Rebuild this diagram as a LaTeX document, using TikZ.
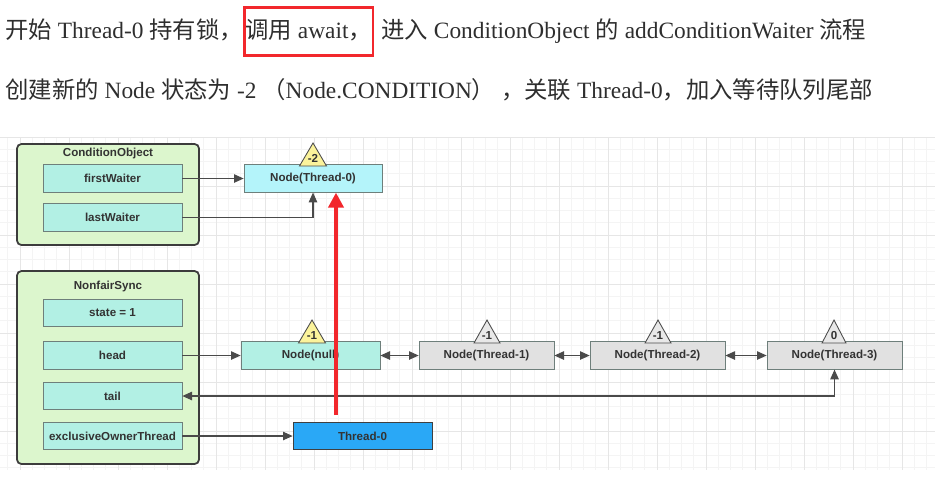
\documentclass[tikz,border=0pt]{standalone}
\usepackage{fontspec}
\setmainfont{Liberation Serif}
\setsansfont{Liberation Sans}
\newfontfamily\cjk{Noto Sans CJK SC}
\usetikzlibrary{positioning,arrows.meta}

\definecolor{headgray}{HTML}{2E2E2E}
\definecolor{redc}{HTML}{F2272C}
\definecolor{holderfill}{HTML}{DCF6CD}
\definecolor{holderline}{HTML}{3C3C3C}
\definecolor{fieldfill}{HTML}{B2F0E4}
\definecolor{fieldline}{HTML}{6E7F7B}
\definecolor{cyanfill}{HTML}{B4F4FA}
\definecolor{grayfill}{HTML}{E1E1E1}
\definecolor{bluefill}{HTML}{2AA8F6}
\definecolor{triyellow}{HTML}{FBF39B}
\definecolor{trigray}{HTML}{E8E8E8}
\definecolor{linkgray}{HTML}{4A4A4A}
\definecolor{gridminor}{HTML}{F4F4F4}
\definecolor{gridmajor}{HTML}{E6E6E6}

\newcommand{\zh}[1]{{\cjk #1}}

\begin{document}
\begin{tikzpicture}[x=0.02cm,y=-0.02cm,
    >={Triangle[length=5.5pt,width=4.8pt]},
    txt/.style={font=\fontsize{13.3pt}{15pt}\selectfont, text=headgray, inner sep=0pt,
                text height=11pt, text depth=3pt},
    redbox/.style={draw=redc, line width=1.4pt, inner xsep=0.5pt, minimum height=0.96cm},
    holder/.style={draw=holderline, fill=holderfill, line width=1pt, rounded corners=2.5pt,
                   minimum width=3.64cm},
    title/.style={font=\sffamily\bfseries\fontsize{6.6pt}{8pt}\selectfont, text=black!80},
    field/.style={title, draw=fieldline, fill=fieldfill, minimum width=2.78cm,
                  minimum height=0.55cm, inner sep=0pt},
    qnode/.style={field, minimum width=2.7cm, fill=grayfill},
    tri/.style={draw=black!70, fill=triyellow, line width=0.5pt},
    link/.style={draw=linkgray, line width=0.6pt},
    redline/.style={draw=redc, line width=2.2pt, -{Triangle[length=0.3cm,width=0.3cm]}}]

    \useasboundingbox (0,0) rectangle (952,495);

    % background grid
    \foreach \i in {0,...,75}
        \draw[gridminor, line width=0.5pt] ({7.75+12.25*\i},137) -- ({7.75+12.25*\i},470);
    \foreach \j in {0,...,27}
        \draw[gridminor, line width=0.5pt] (0,{137+12.25*\j}) -- (935,{137+12.25*\j});
    \foreach \i in {0,...,18}
        \draw[gridmajor, line width=0.5pt] ({20+49*\i},137) -- ({20+49*\i},470);
    \foreach \j in {0,...,6}
        \draw[gridmajor, line width=0.5pt] (0,{137+49*\j}) -- (935,{137+49*\j});

    % headline
    \node[txt, anchor=west] (l1a) at (5,31.5) {\zh{开始} Thread-0 \zh{持有锁，}};
    \node[txt, redbox, right=0pt of l1a] (l1b) {\zh{调用} await\zh{，}};
    \node[txt, right=4pt of l1b] (l1c) {\zh{进入} ConditionObject \zh{的} addConditionWaiter \zh{流程}};
    \node[txt, anchor=west] (l2) at (5,91)
        {\zh{创建新的} Node \zh{状态为} -2 \zh{（}Node.CONDITION\zh{）} \zh{，关联} Thread-0\zh{，加入等待队列尾部}};

    % ConditionObject
    \node[holder, minimum height=2.02cm] (cobj) at (108,194.5) {};
    \node[title] (ctitle) at (108,153) {ConditionObject};
    \node[field] (fw) at (112.5,178.5) {firstWaiter};
    \node[field] (lw) at (112.5,217.5) {lastWaiter};
    \node[field, fill=cyanfill, minimum width=2.76cm] (cn) at (313,178.5) {Node(Thread-0)};

    % NonfairSync
    \node[holder, minimum height=3.86cm] (sync) at (108,367.5) {};
    \node[title] (stitle) at (108,286) {NonfairSync};
    \node[field] (st) at (112.5,313) {state = 1};
    \node[field] (hd) at (112.5,355.5) {head};
    \node[field] (tl) at (112.5,396) {tail};
    \node[field] (ex) at (112.5,436) {exclusiveOwnerThread};

    \node[field] (nn) at (310.5,355.5) {Node(null)};
    \node[qnode] (n1) at (486.5,355.5) {Node(Thread-1)};
    \node[qnode] (n2) at (657.5,355.5) {Node(Thread-2)};
    \node[qnode] (n3) at (834.5,355.5) {Node(Thread-3)};
    \node[field, fill=bluefill, draw=black!75] (th0) at (362.5,436) {Thread-0};

    % waitStatus marks
    \draw[tri] (299.5,166) -- (326.5,166) -- (313,143) -- cycle;
    \node[title] (w0) at (313,158) {-2};
    \draw[tri] (298.5,343) -- (325.5,343) -- (312,320) -- cycle;
    \node[title] (w1) at (312,335) {-1};
    \draw[tri, fill=trigray] (474,343) -- (500,343) -- (487,320) -- cycle;
    \node[title] (w2) at (487,335) {-1};
    \draw[tri, fill=trigray] (645,343) -- (671,343) -- (658,320) -- cycle;
    \node[title] (w3) at (658,335) {-1};
    \draw[tri, fill=trigray] (822,343) -- (846,343) -- (834,320) -- cycle;
    \node[title] (w4) at (834,335) {0};

    % links
    \draw[link,->] (fw) -- (cn);
    \draw[link,->] (lw.east) -| (cn.south);
    \draw[link,->] (hd) -- (nn);
    \draw[link,<->] (nn) -- (n1);
    \draw[link,<->] (n1) -- (n2);
    \draw[link,<->] (n2) -- (n3);
    \draw[link,<->] (n3.south) |- (tl.east);
    \draw[link,->] (ex) -- (th0);

    \coordinate (rbase) at (336,415);
    \draw[redline] (rbase) -- (rbase |- cn.south);
\end{tikzpicture}
\end{document}
